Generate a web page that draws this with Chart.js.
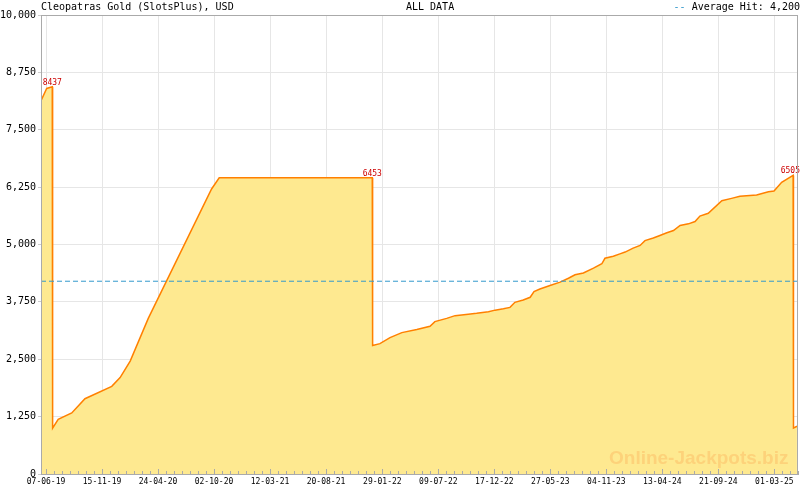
<!DOCTYPE html>
<html>
<head>
<meta charset="utf-8">
<script src="https://cdn.jsdelivr.net/npm/chart.js@4.4.1/dist/chart.umd.min.js"></script>
<style>
  body { margin: 0; background: #fff; }
</style>
</head>
<body>
<canvas id="chartJackpot" width="800" height="490"></canvas>
<script>
// Datos del jackpot (días desde 07-06-19, valor en USD)
const chartTitle = 'Cleopatras Gold (SlotsPlus), USD';
const periodLabel = 'ALL DATA';
const avgHit = 4200;

const xTickLabels = ['07-06-19','15-11-19','24-04-20','02-10-20','12-03-21','20-08-21','29-01-22',
                     '09-07-22','17-12-22','27-05-23','04-11-23','13-04-24','21-09-24','01-03-25'];
const yTicks = [0, 1250, 2500, 3750, 5000, 6250, 7500, 8750, 10000];

const jackpotDays = [-14, 2, 18, 19, 35, 74, 112, 189, 213, 242, 294, 476, 498, 938,
  939, 960, 989, 1023, 1066, 1104, 1118, 1152, 1176, 1214, 1238, 1272, 1291, 1315, 1334,
  1348, 1372, 1392, 1403, 1420, 1449, 1478, 1502, 1521, 1545, 1574, 1598, 1607, 1631,
  1650, 1665, 1688, 1708, 1722, 1746, 1765, 1785, 1804, 1823, 1847, 1866, 1880, 1904,
  1943, 1971, 1995, 2043, 2077, 2093, 2115, 2148, 2149, 2159];
const jackpotValues = [8140, 8400, 8437, 1000, 1190, 1330, 1640, 1910, 2100, 2460, 3390, 6210, 6453, 6453,
  2800, 2840, 2970, 3080, 3150, 3220, 3320, 3390, 3450, 3480, 3500, 3535, 3570, 3600, 3630,
  3740, 3790, 3850, 3975, 4030, 4105, 4180, 4265, 4340, 4380, 4485, 4580, 4700, 4745,
  4795, 4835, 4920, 4980, 5085, 5140, 5195, 5255, 5305, 5415, 5450, 5500, 5620, 5680,
  5955, 6005, 6050, 6080, 6150, 6165, 6355, 6505, 1000, 1040];

const xMin = -14.4;
const xMax = 2162;
const minorStep = 23;
const mono = 'DejaVu Sans Mono';

// dd-mm-yy -> días desde la primera etiqueta
function parseLabel(s){
    const [d, m, y] = s.split('-').map(Number);
    return Date.UTC(2000 + y, m - 1, d) / 86400000;
}
const day0 = parseLabel(xTickLabels[0]);
const xTickDays = xTickLabels.map(l => parseLabel(l) - day0);

const points = jackpotDays.map((d, i) => ({ x: d, y: jackpotValues[i] }));

// Plugin: marco, títulos, marcas menores, etiquetas de picos y marca de agua
const decorPlugin = {
    id: 'decor',
    afterDatasetsDraw(chart){
        const { ctx, chartArea: a, scales: { x, y } } = chart;
        ctx.save();
        // marca de agua
        ctx.font = 'bold 19px "Liberation Sans", Arial, sans-serif';
        ctx.fillStyle = '#fdd27a';
        ctx.textAlign = 'left';
        ctx.textBaseline = 'alphabetic';
        ctx.fillText('Online-Jackpots.biz', 609, 464);

        // etiquetas de picos (antes de una caída)
        ctx.font = '8px "' + mono + '"';
        ctx.fillStyle = '#cc0000';
        ctx.textAlign = 'center';
        for(let i = 0; i < jackpotValues.length - 1; i++){
            if(jackpotValues[i + 1] < jackpotValues[i] - 2000){
                const txt = String(jackpotValues[i]);
                const w = ctx.measureText(txt).width;
                let px = x.getPixelForValue(jackpotDays[i]);
                px = Math.min(px, 800 - w / 2);
                ctx.fillText(txt, px, y.getPixelForValue(jackpotValues[i]) - 2);
            }
        }

        // marcas del eje x
        ctx.strokeStyle = '#aaaaaa';
        ctx.lineWidth = 1;
        ctx.beginPath();
        for(let d = 0; d <= xMax; d += minorStep){
            const px = Math.round(x.getPixelForValue(d)) + 0.5;
            const major = (d / minorStep) % 7 === 0;
            ctx.moveTo(px, a.bottom);
            ctx.lineTo(px, a.bottom - (major ? 5 : 3));
        }
        ctx.stroke();
        ctx.restore();
    },
    afterDraw(chart){
        const { ctx, chartArea: a } = chart;
        ctx.save();
        ctx.strokeStyle = '#aaaaaa';
        ctx.lineWidth = 1;
        ctx.strokeRect(a.left + 0.5, a.top + 0.5, a.right - a.left - 1, a.bottom - a.top);

        ctx.font = '10px "' + mono + '"';
        ctx.textBaseline = 'alphabetic';
        ctx.fillStyle = '#000';
        ctx.textAlign = 'left';
        ctx.fillText(chartTitle, 41, 10);
        ctx.fillText(periodLabel, 406, 10);

        const legendTxt = 'Average Hit: ' + avgHit.toLocaleString('en-US');
        const w = ctx.measureText(legendTxt).width;
        ctx.fillText(legendTxt, 800 - w, 10);
        ctx.fillStyle = '#3399cc';
        ctx.fillText('-- ', 800 - w - ctx.measureText('-- ').width, 10);
        ctx.restore();
    }
};

new Chart(document.getElementById('chartJackpot').getContext('2d'), {
    type: 'line',
    data: {
        datasets: [{
            data: [{ x: xMin, y: avgHit }, { x: xMax, y: avgHit }],
            borderColor: '#3399cc',
            borderWidth: 1,
            borderDash: [5, 3],
            pointRadius: 0,
            fill: false,
        }, {
            data: points,
            borderColor: '#ff8000',
            borderWidth: 1.5,
            backgroundColor: '#fee990',
            fill: 'origin',
            pointRadius: 0,
            tension: 0,
        }]
    },
    options: {
        responsive: false,
        animation: false,
        layout: { padding: { top: 15, right: 2, left: 0, bottom: 0 } },
        plugins: { legend: { display: false }, tooltip: { enabled: false } },
        scales: {
            x: {
                type: 'linear',
                min: xMin,
                max: xMax,
                afterFit(s){ s.height = 16; },
                afterBuildTicks(s){ s.ticks = xTickDays.map(v => ({ value: v })); },
                grid: { color: '#e6e6e6', drawTicks: false },
                border: { color: '#aaaaaa' },
                ticks: {
                    autoSkip: false,
                    maxRotation: 0,
                    padding: 3,
                    color: '#000',
                    font: { family: mono, size: 8 },
                    callback: (v, i) => xTickLabels[i]
                }
            },
            y: {
                min: 0,
                max: 10000,
                afterFit(s){ s.width = 41; },
                afterBuildTicks(s){ s.ticks = yTicks.map(v => ({ value: v })); },
                grid: { color: '#e6e6e6', tickLength: 3, tickColor: '#cccccc' },
                border: { color: '#aaaaaa' },
                ticks: {
                    padding: 2,
                    color: '#000',
                    font: { family: mono, size: 10 },
                    callback: v => v.toLocaleString('en-US')
                }
            }
        }
    },
    plugins: [decorPlugin]
});
</script>
</body>
</html>
